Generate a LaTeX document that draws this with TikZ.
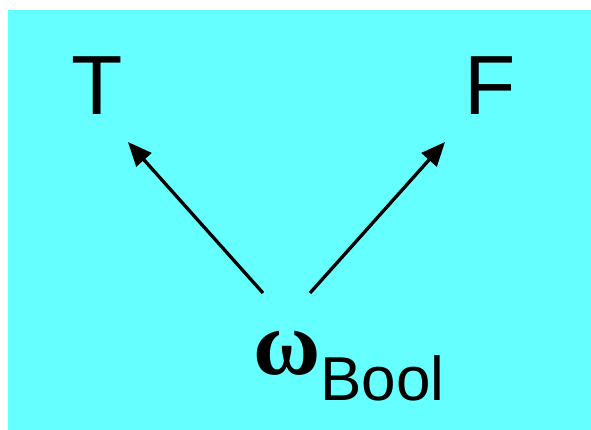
\documentclass[tikz,border=0pt]{standalone}
\usepackage{fontspec}
\setmainfont{Liberation Sans}
\newfontfamily\serifgr{Liberation Serif}
\usetikzlibrary{arrows.meta}
\definecolor{bgcyan}{HTML}{66FFFF}
\begin{document}
\begin{tikzpicture}[x=1pt,y=-1pt,
  lbl/.style={anchor=base,inner sep=0pt,font=\fontsize{84}{90}\selectfont},
  conn/.style={line width=3.3pt,-{Triangle[length=24pt,width=20pt]}}]
\useasboundingbox (0,0) rectangle (591,430);
\fill[bgcyan] (8,10) rectangle (591,430);
\node[lbl] (T) at (97,115) {T};
\node[lbl] (F) at (490,115) {F};
\node[anchor=base west,inner sep=0pt] (w) at (253,374) {\fontsize{92}{94}\selectfont\serifgr\bfseries ω\kern0pt\raisebox{-26pt}{\fontsize{62}{66}\selectfont\rmfamily\mdseries Bool}};
\coordinate (s1) at (263,293);
\coordinate (t1) at (128,142);
\coordinate (s2) at (310,293);
\coordinate (t2) at (445,142);
\draw[conn] (s1) -- (t1);
\draw[conn] (s2) -- (t2);
\end{tikzpicture}
\end{document}
